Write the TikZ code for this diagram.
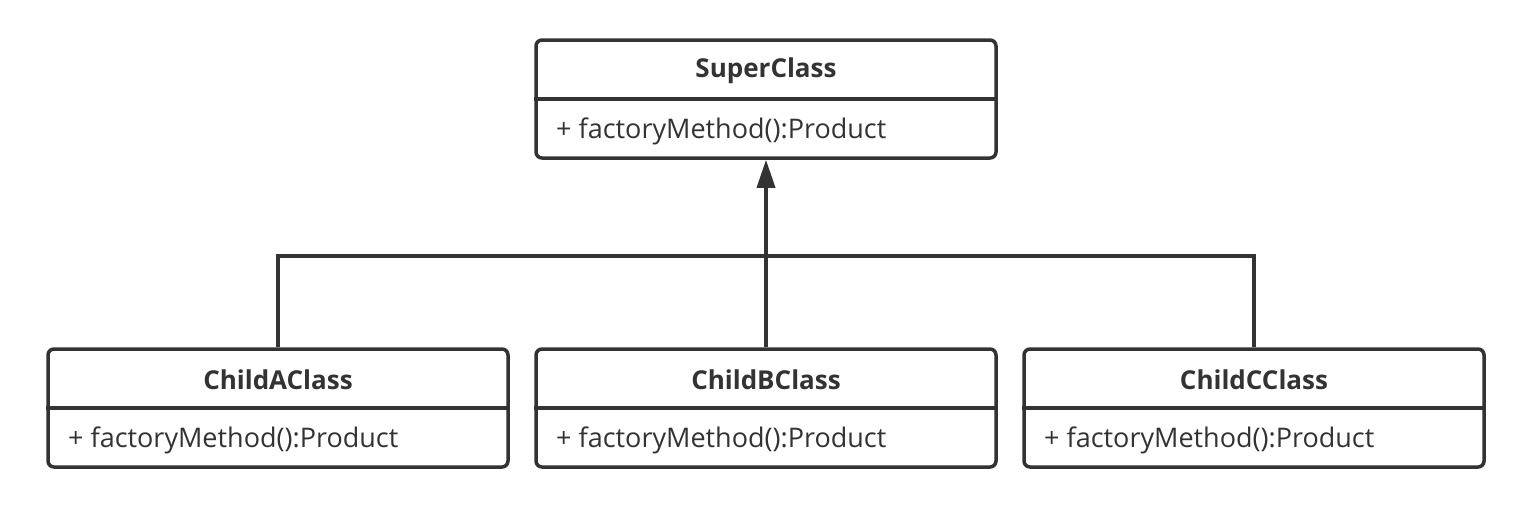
\documentclass[tikz,border=0pt]{standalone}
\usepackage{fontspec}
\setmainfont{Open Sans}
\usetikzlibrary{arrows.meta}
\definecolor{ink}{HTML}{333333}
\begin{document}
\begin{tikzpicture}[x=1pt,y=-1pt,
  classbox/.style={draw=ink,line width=3.5pt,rounded corners=6pt,minimum width=460pt,minimum height=118pt,inner sep=0pt,fill=white},
  divider/.style={draw=ink,line width=3.5pt},
  title/.style={text=ink,font=\fontsize{26}{30}\selectfont\bfseries,inner sep=0pt},
  method/.style={text=ink,font=\fontsize{27}{31}\selectfont,inner sep=0pt,anchor=west},
  conn/.style={draw=ink,line width=3.5pt}
]
\useasboundingbox (0,0) rectangle (1533,504);
\fill[white] (0,0) rectangle (1533,504);

\node[classbox] (super) at (766,99) {};
\node[classbox] (childA) at (278,408) {};
\node[classbox] (childB) at (766,408) {};
\node[classbox] (childC) at (1254,408) {};

\foreach \n in {super,childA,childB,childC}{
  \draw[divider] (\n.west) -- (\n.east);
}

\node[title] (tS) at (766,71) {SuperClass};
\node[method] (mS) at (556,131) {+ factoryMethod():Product};
\node[title] (tA) at (278,380) {ChildAClass};
\node[method] (mA) at (68,440) {+ factoryMethod():Product};
\node[title] (tB) at (766,380) {ChildBClass};
\node[method] (mB) at (556,440) {+ factoryMethod():Product};
\node[title] (tC) at (1254,380) {ChildCClass};
\node[method] (mC) at (1044,440) {+ factoryMethod():Product};

\coordinate (junc) at (766,256);
\draw[conn,-{Triangle[length=28pt,width=18pt]}] (childB.north) -- (super.south);
\draw[conn] (childA.north) |- (junc) -| (childC.north);
\end{tikzpicture}
\end{document}
